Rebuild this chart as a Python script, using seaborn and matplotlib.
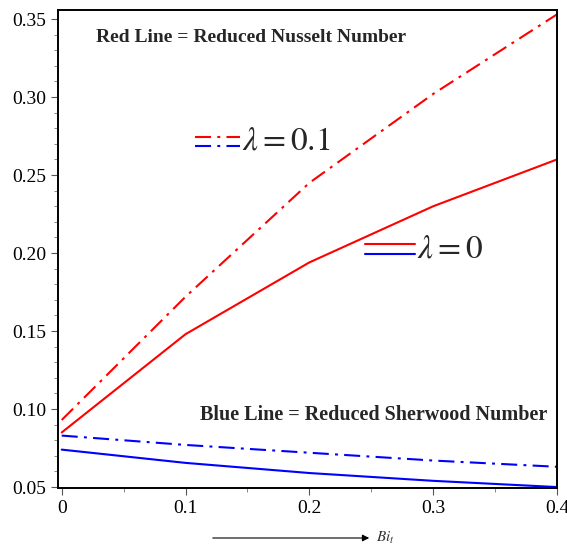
import numpy as np
import pandas as pd
import matplotlib
matplotlib.use("Agg")
import matplotlib.pyplot as plt
from matplotlib.lines import Line2D
from matplotlib.ticker import MultipleLocator
import seaborn as sns

# === Data ===
bi_t = [0.0, 0.1, 0.2, 0.3, 0.4]
nusselt_lam0 = [0.085, 0.148, 0.194, 0.230, 0.260]
nusselt_lam01 = [0.093, 0.172, 0.245, 0.302, 0.353]
sherwood_lam0 = [0.074, 0.0655, 0.059, 0.054, 0.050]
sherwood_lam01 = [0.083, 0.077, 0.072, 0.067, 0.063]

sns.set_style("ticks")
plt.rcParams["font.family"] = ["Liberation Serif", "DejaVu Serif"]
plt.rcParams["mathtext.fontset"] = "stix"

fig = plt.figure(figsize=(5.67, 5.5), dpi=100)
ax = fig.add_axes([58 / 567, 1 - 488 / 550, 499 / 567, 478 / 550])

dashdot = (0, (7.7, 3, 1.4, 3))
sns.lineplot(x=bi_t, y=nusselt_lam01, color="#ff0000", linewidth=1.5, linestyle=dashdot, ax=ax)
sns.lineplot(x=bi_t, y=nusselt_lam0, color="#ff0000", linewidth=1.5, ax=ax)
sns.lineplot(x=bi_t, y=sherwood_lam01, color="#0000ff", linewidth=1.5, linestyle=dashdot, ax=ax)
sns.lineplot(x=bi_t, y=sherwood_lam0, color="#0000ff", linewidth=1.5, ax=ax)

ax.set_xlim(-0.003, 0.4)
ax.set_ylim(0.0494, 0.3558)
ax.xaxis.set_minor_locator(MultipleLocator(0.05))
ax.yaxis.set_minor_locator(MultipleLocator(0.01))
ax.set_xticks([0, 0.1, 0.2, 0.3, 0.4])
ax.set_xticklabels(["0", "0.1", "0.2", "0.3", "0.4"])
ax.set_yticks([0.05, 0.10, 0.15, 0.20, 0.25, 0.30, 0.35])
ax.set_yticklabels(["0.05", "0.10", "0.15", "0.20", "0.25", "0.30", "0.35"])
ax.tick_params(axis="both", which="major", labelsize=14, length=5, width=0.8,
               color="#555555", labelcolor="black")
ax.tick_params(axis="both", which="minor", length=3, width=0.6, color="#777777")
for s in ax.spines.values():
    s.set_visible(True)
    s.set_color("black")
    s.set_linewidth(1.4)

# annotations
ax.text(38 / 499, 1 - (37 - 10) / 478, "Red Line = Reduced Nusselt Number", transform=ax.transAxes,
        fontsize=14, fontweight="bold", va="center", ha="left")
ax.text(142 / 499, 1 - (415 - 10) / 478, "Blue Line = Reduced Sherwood Number", transform=ax.transAxes,
        fontsize=14.5, fontweight="bold", va="center", ha="left")

# legend keys
def key(x0, x1, y, color, ls):
    ax.add_line(Line2D([x0 / 499, x1 / 499], [y, y], transform=ax.transAxes,
                       color=color, linewidth=1.5, linestyle=ls))

y1 = 1 - (137 - 10) / 478
y2 = 1 - (146 - 10) / 478
key(137, 182, y1, "#ff0000", dashdot)
key(137, 182, y2, "#0000ff", dashdot)
ax.text(184 / 499, (y1 + y2) / 2, r"$\lambda = 0.1$", transform=ax.transAxes,
        fontsize=24, va="center", ha="left")

y3 = 1 - (244 - 10) / 478
y4 = 1 - (254 - 10) / 478
key(307, 357, y3, "#ff0000", "-")
key(307, 357, y4, "#0000ff", "-")
ax.text(359 / 499, (y3 + y4) / 2, r"$\lambda = 0$", transform=ax.transAxes,
        fontsize=24, va="center", ha="left")

# x-axis arrow label
fig.add_artist(matplotlib.patches.FancyArrowPatch(
    (210 / 567, 1 - 538 / 550), (372 / 567, 1 - 538 / 550), transform=fig.transFigure,
    arrowstyle="-|>", mutation_scale=10, color="black", linewidth=0.8))
fig.text(376 / 567, 1 - 538 / 550, r"$Bi_t$", fontsize=11, va="center", ha="left",
         color="#333333")

fig.savefig("out.png", dpi=100)
